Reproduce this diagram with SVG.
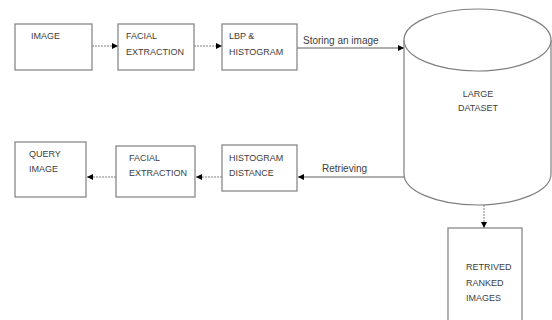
<svg xmlns="http://www.w3.org/2000/svg" width="552" height="320" viewBox="0 0 552 320">
<style>
.box{fill:#fff;stroke:#7f7f7f;stroke-width:1.2}
.t{font-family:"Liberation Sans",Arial,sans-serif;font-size:9px;fill:#404040}
.lbl{font-family:"Liberation Sans",Arial,sans-serif;font-size:10px;fill:#404040}
.dot{stroke:#808080;stroke-width:1;stroke-dasharray:2 1;fill:none}
.sol{stroke:#606060;stroke-width:1.2;fill:none}
</style>
<defs>
<marker id="ah" viewBox="0 0 10 10" refX="10" refY="5" markerWidth="6" markerHeight="6" markerUnits="userSpaceOnUse" orient="auto">
<path d="M0,0 L10,5 L0,10 z" fill="#000"/>
</marker>
</defs>
<rect width="552" height="320" fill="#fff"/>
<g id="connectors">
<line class="dot" x1="92" y1="46" x2="118" y2="46" marker-end="url(#ah)"/>
<line class="dot" x1="194" y1="46" x2="222" y2="46" marker-end="url(#ah)"/>
<line class="sol" x1="297" y1="48" x2="404" y2="48" marker-end="url(#ah)"/>
<text class="lbl" x="303" y="44">Storing an image</text>
<line class="sol" x1="404" y1="177" x2="298" y2="177" marker-end="url(#ah)"/>
<text class="lbl" x="322" y="172">Retrieving</text>
<line class="dot" x1="222" y1="177" x2="196" y2="177" marker-end="url(#ah)"/>
<line class="dot" x1="116" y1="177" x2="87" y2="177" marker-end="url(#ah)"/>
<line class="dot" x1="484" y1="205" x2="484" y2="228" marker-end="url(#ah)"/>
</g>
<g id="image">
<rect class="box" x="15" y="24" width="77" height="46"/>
<text class="t" x="31" y="39">IMAGE</text>
</g>
<g id="facial1">
<rect class="box" x="118" y="24" width="76" height="46"/>
<text class="t" x="126" y="39">FACIAL</text>
<text class="t" x="126" y="55">EXTRACTION</text>
</g>
<g id="lbp">
<rect class="box" x="222" y="24" width="75" height="46"/>
<text class="t" x="229" y="39">LBP &amp;</text>
<text class="t" x="229" y="55">HISTOGRAM</text>
</g>
<g id="dataset">
<path class="box" d="M404,40 L404,174 A73.5,31 0 0 0 551,174 L551,40"/>
<ellipse class="box" cx="477.5" cy="40" rx="73.5" ry="31"/>
<text class="t" x="478" y="97" text-anchor="middle">LARGE</text>
<text class="t" x="478" y="111" text-anchor="middle">DATASET</text>
</g>
<g id="histdist">
<rect class="box" x="222" y="145" width="75" height="46"/>
<text class="t" x="229" y="161">HISTOGRAM</text>
<text class="t" x="229" y="176">DISTANCE</text>
</g>
<g id="facial2">
<rect class="box" x="116" y="146" width="79" height="51"/>
<text class="t" x="129" y="161">FACIAL</text>
<text class="t" x="129" y="176">EXTRACTION</text>
</g>
<g id="query">
<rect class="box" x="15" y="142" width="71" height="55"/>
<text class="t" x="29" y="157">QUERY</text>
<text class="t" x="29" y="172">IMAGE</text>
</g>
<g id="retrived">
<rect class="box" x="448" y="228" width="74" height="100"/>
<text class="t" x="466" y="270">RETRIVED</text>
<text class="t" x="466" y="286">RANKED</text>
<text class="t" x="466" y="301">IMAGES</text>
</g>
</svg>
